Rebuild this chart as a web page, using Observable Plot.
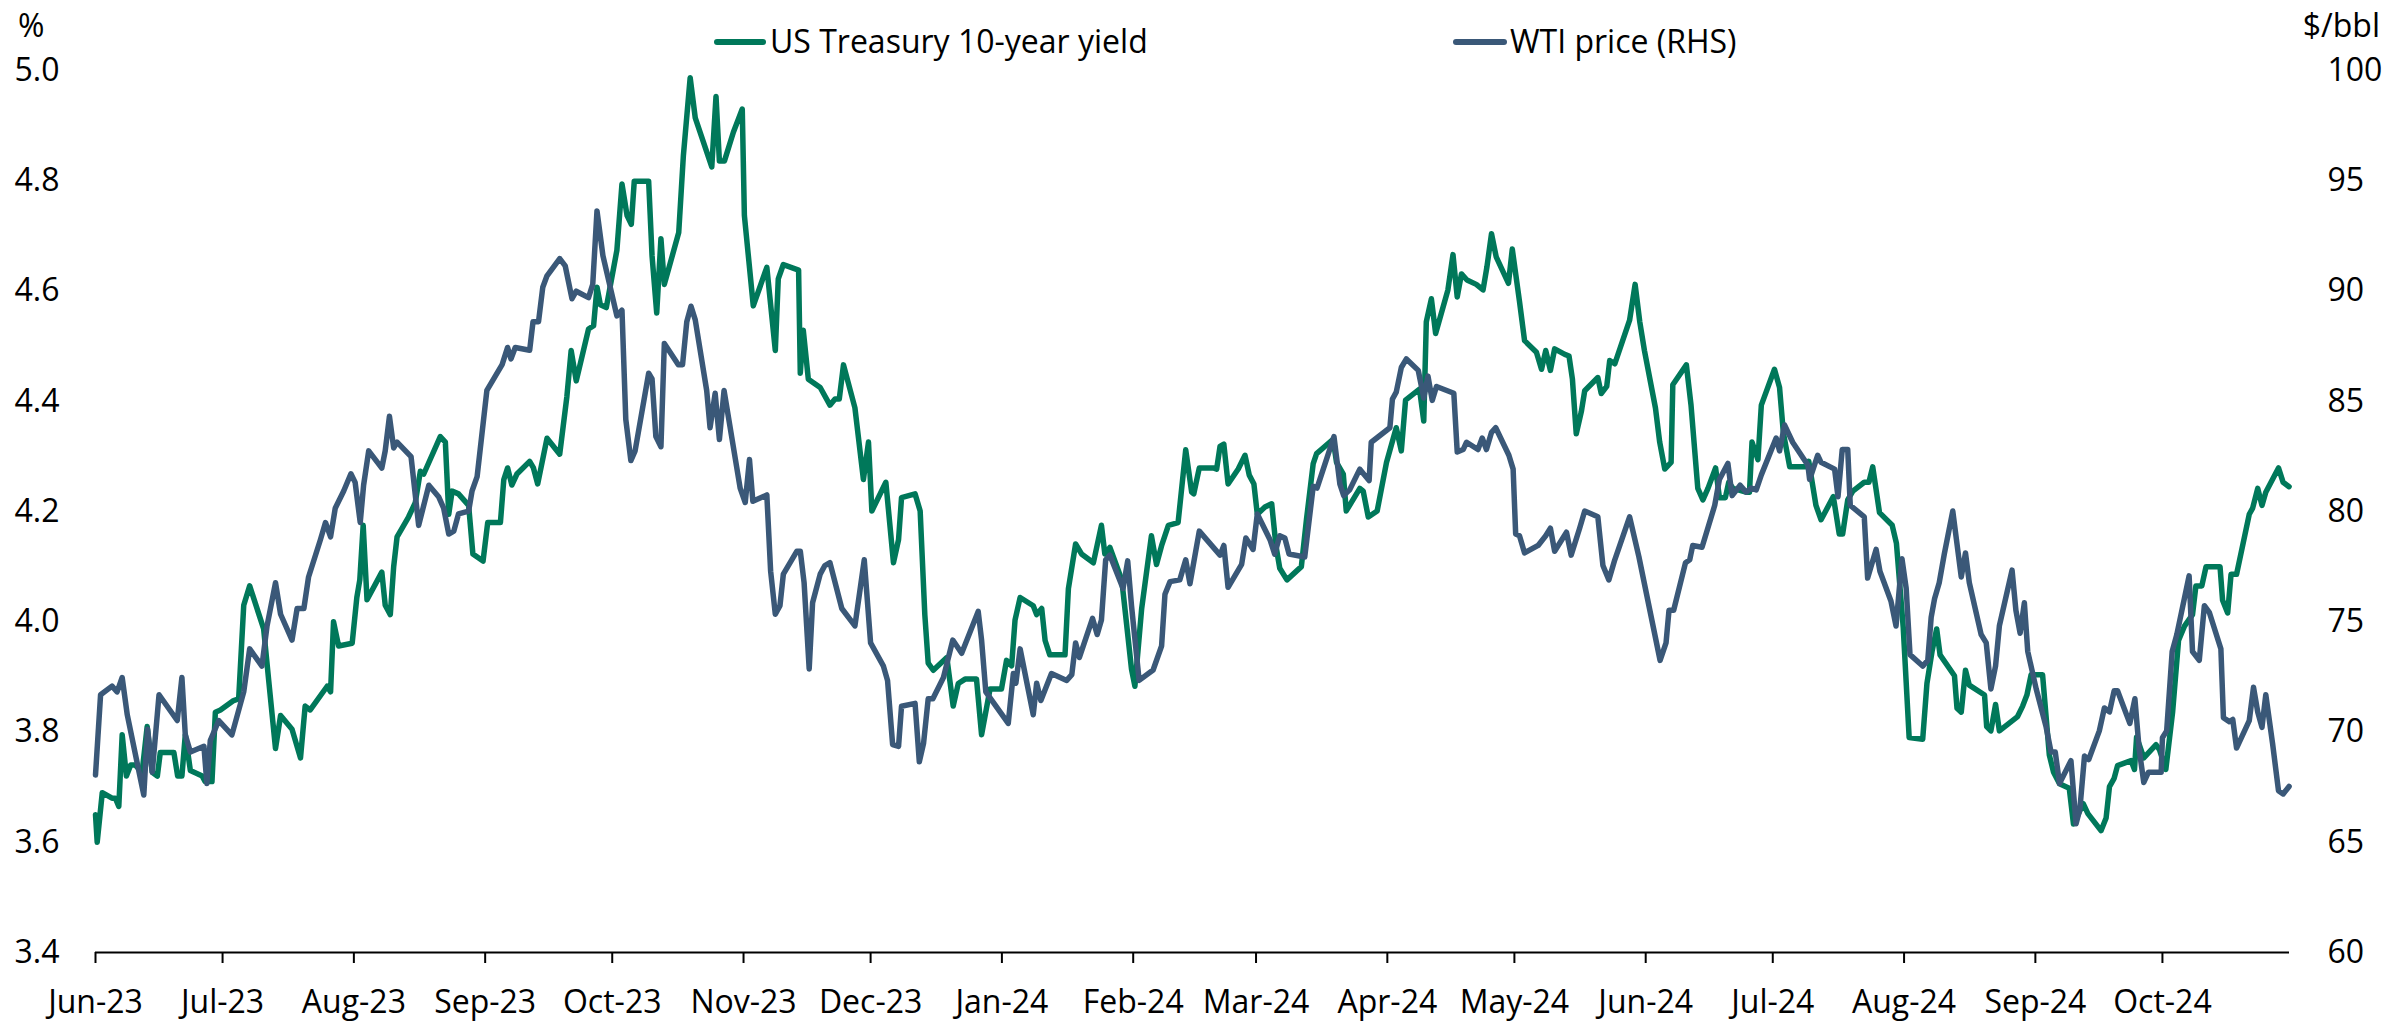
<!DOCTYPE html>
<html><head><meta charset="utf-8">
<script src="https://cdn.jsdelivr.net/npm/d3@7"></script>
<script src="https://cdn.jsdelivr.net/npm/@observablehq/plot@0.6"></script>
<style>
html,body{margin:0;padding:0;background:#fff;}
#wrap{position:relative;width:2389px;height:1024px;font-family:"Open Sans",sans-serif;color:#000;overflow:hidden;}
#wrap svg{position:absolute;left:0;top:0;}
.lab{position:absolute;font-size:32px;line-height:32px;white-space:nowrap;}
.sw{position:absolute;height:6px;border-radius:3px;}
</style></head><body>
<div id="wrap">
  <div class="lab" style="left:18px;top:9px;">%</div>
  <div class="lab" style="right:9px;top:9px;">$/bbl</div>
  <div class="sw" style="left:714px;top:39px;width:52px;background:#00785A;"></div>
  <div class="lab" style="left:770px;top:25px;">US Treasury 10-year yield</div>
  <div class="sw" style="left:1453px;top:39px;width:54px;background:#3A5878;"></div>
  <div class="lab" style="left:1510px;top:25px;">WTI price (RHS)</div>
</div>
<script>
// Series names
const seriesNames = ["US Treasury 10-year yield", "WTI price (RHS)"];
// Axis ticks
const yieldTicks = [3.4, 3.6, 3.8, 4.0, 4.2, 4.4, 4.6, 4.8, 5.0];
const wtiTicks = [60, 65, 70, 75, 80, 85, 90, 95, 100];
const monthTicks = ["2023-06-01","2023-07-01","2023-08-01","2023-09-01","2023-10-01","2023-11-01","2023-12-01",
  "2024-01-01","2024-02-01","2024-03-01","2024-04-01","2024-05-01","2024-06-01","2024-07-01","2024-08-01",
  "2024-09-01","2024-10-01"];
const startDate = "2023-06-01";
const endDate = "2024-10-31";

// US 10-year yield (%): [days since 1 Jun 2023, value]
const yieldPoints = [
[0,3.65],[0.4,3.60],[1.6,3.69],[3.9,3.68],[4.7,3.68],[5.5,3.665],[6.3,3.795],[7.3,3.72],[8.3,3.74],[9.4,3.74],[11,3.727],[12.2,3.81],[13.4,3.727],[14.6,3.72],[15.3,3.763],[18.5,3.763],[19.4,3.72],[20.4,3.72],[21.2,3.795],[22.4,3.73],[25.2,3.72],[25.9,3.71],[27.5,3.71],[28.3,3.836],[29.5,3.84],[32.6,3.857],[33.8,3.86],[35,4.03],[36.4,4.065],[39.7,3.987],[40.9,3.893],[42.5,3.77],[43.7,3.83],[46.4,3.805],[48.4,3.753],[49.5,3.847],[50.7,3.84],[54.7,3.883],[55.5,3.873],[56.2,4.0],[57.4,3.956],[60.6,3.961],[61.7,4.044],[62.4,4.076],[63.2,4.175],[64.1,4.04],[67.6,4.09],[68.4,4.03],[69.6,4.013],[70.4,4.10],[71.2,4.154],[73.9,4.19],[75.5,4.216],[76.7,4.273],[77.5,4.268],[81.4,4.336],[82.6,4.326],[83.4,4.195],[84.2,4.237],[85.7,4.232],
[88.1,4.211],[89.1,4.123],[91.5,4.11],[92.6,4.18],[95.6,4.18],[96.4,4.258],[97.3,4.279],[98.3,4.248],[99.5,4.268],[102.5,4.291],[103.4,4.279],[104.4,4.25],[106.6,4.333],[109.6,4.304],[111.3,4.409],[112.3,4.492],[113.5,4.437],[116.4,4.531],[117.6,4.537],[118.4,4.607],[119.2,4.575],[120.6,4.57],[123.1,4.674],[124.3,4.794],[125.5,4.737],[126.5,4.721],[127.2,4.799],[130.6,4.799],[131.4,4.664],[132.5,4.56],[133.5,4.695],[134.3,4.612],[137.7,4.706],[138.8,4.846],[140.4,4.987],[141.6,4.914],[145.5,4.825],[146.5,4.953],[147.3,4.836],[148.5,4.836],[150.6,4.888],[152.7,4.93],[153.2,4.737],[155.3,4.573],[158.5,4.643],[160.5,4.492],[161.2,4.622],[162.4,4.648],[166.0,4.638],[166.4,4.451],[167.1,4.529],[168.3,4.44],[171.1,4.425],
[173.4,4.393],[174.6,4.404],[175.6,4.404],[176.6,4.466],[179.3,4.388],[181.3,4.258],[182.5,4.326],[183.3,4.201],[186.6,4.253],[188.4,4.107],[189.6,4.149],[190.3,4.225],[193.5,4.232],[194.7,4.201],[195.8,4.013],[196.6,3.925],[197.8,3.912],[201.0,3.935],[202.5,3.847],[203.7,3.888],[205.3,3.896],[208.0,3.896],[209.2,3.795],[211.2,3.878],[213.9,3.878],[215.1,3.93],[216.3,3.92],[217.1,4.003],[218.3,4.044],[221.4,4.029],[222.2,4.013],[223.4,4.024],[224.2,3.966],[225.3,3.94],[228.9,3.94],[229.7,4.06],[231.4,4.141],[232.8,4.123],[235.6,4.107],[237.5,4.175],[238.3,4.123],[239.5,4.135],[242.3,4.076],[244.6,3.914],[245.4,3.883],[247.0,4.024],[249.3,4.156],[250.5,4.104],[251.7,4.138],[253.3,4.175],[255.6,4.18],
[257.4,4.312],[258.8,4.235],[259.3,4.232],[260.6,4.279],[263.9,4.279],[264.7,4.277],[265.5,4.318],[266.4,4.322],[267.4,4.25],[269.8,4.277],[271.4,4.302],[272.4,4.266],[273.5,4.25],[274.3,4.195],[276.1,4.208],[277.7,4.214],[278.7,4.138],[279.6,4.097],[281.3,4.076],[284.7,4.1],[285.9,4.185],[287.5,4.287],[288.3,4.305],[292.2,4.331],[293.0,4.289],[294.6,4.268],[295.3,4.201],[298.5,4.242],[299.3,4.237],[300.5,4.19],[302.6,4.201],[304.8,4.289],[307.1,4.352],[308.3,4.31],[309.3,4.402],[312.6,4.422],[313.6,4.364],[314.2,4.544],[315.4,4.586],[316.4,4.523],[319.3,4.602],[320.5,4.666],[321.5,4.589],[322.5,4.631],[323.8,4.62],[326.0,4.612],[327.6,4.602],[328.5,4.643],[329.6,4.704],[330.7,4.662],[333.6,4.614],[334.5,4.676],[336.2,4.581],[337.4,4.51],[340.2,4.489],
[341.4,4.458],[342.4,4.492],[343.5,4.456],[344.5,4.495],[346.9,4.485],[347.9,4.482],[348.7,4.44],[349.6,4.341],[350.8,4.381],[351.6,4.419],[354.7,4.443],[355.5,4.414],[356.8,4.427],[357.5,4.474],[358.7,4.468],[362.2,4.547],[363.5,4.612],[364.6,4.544],[365.7,4.492],[368.3,4.388],[369.3,4.326],[370.5,4.277],[372.0,4.289],[372.4,4.43],[375.6,4.466],[376.7,4.393],[378.3,4.242],[379.5,4.221],[380.7,4.242],[382.5,4.279],[383.4,4.225],[384.8,4.225],[385.6,4.253],[386.6,4.242],[389.7,4.235],[390.5,4.235],[391.1,4.326],[392.5,4.294],[393.3,4.393],[396.4,4.458],[397.6,4.425],[398.5,4.343],[400.0,4.281],[403.7,4.281],[404.5,4.291],[406.2,4.211],[407.4,4.185],[410.3,4.227],[411.7,4.159],[412.5,4.159],[413.7,4.221],[414.9,4.237],[417.6,4.253],[418.7,4.253],[419.6,4.281],[421.2,4.198],[424.2,4.175],[425.2,4.142],
[426.8,3.99],[428.2,3.79],[431.4,3.787],[432.4,3.888],[433.6,3.946],[434.7,3.987],[435.5,3.94],[438.9,3.902],[439.5,3.843],[440.5,3.836],[441.5,3.912],[442.4,3.885],[446.0,3.867],[446.5,3.81],[447.5,3.802],[448.6,3.85],[449.5,3.802],[453.8,3.828],[455.0,3.847],[456.0,3.867],[457.0,3.904],[459.7,3.904],[461.3,3.758],[462.3,3.727],[463.7,3.706],[466.0,3.698],[467.0,3.633],[468.0,3.649],[469.3,3.67],[470.4,3.652],[473.5,3.621],[474.7,3.644],[475.5,3.701],[476.6,3.716],[477.4,3.739],[480.6,3.748],[481.4,3.732],[481.9,3.791],[483.6,3.753],[486.5,3.777],[487.3,3.768],[488.8,3.732],[490.4,3.836],[491.8,3.966],[493.2,3.992],[495.1,4.013],[495.9,4.065],[497.3,4.065],[498.3,4.1],[501.6,4.1],[502.2,4.039],[503.4,4.016],[504.2,4.086],[505.5,4.086],[508.5,4.195],[509.3,4.206],[510.5,4.242],[511.5,4.211],[512.4,4.235],[515.4,4.279],[516.5,4.253],[517.9,4.245]
];

// WTI price ($/bbl): [days since 1 Jun 2023, value]
const wtiPoints = [
[0,68.05],[1.2,71.69],[3.9,72.08],[5.1,71.82],[6.3,72.47],[7.5,70.78],[11.4,67.14],[12.3,70.13],[13.4,68.18],[15,71.69],[19.3,70.52],[20.4,72.47],[21.2,69.87],[22.4,69.09],[25.6,69.35],[26.3,67.66],[27.1,69.61],[29.1,70.52],[32.2,69.87],[35,71.82],[36.4,73.77],[39.3,72.99],[40.5,74.81],[42.5,76.77],[43.7,75.34],[46.4,74.17],[47.6,75.6],[49.2,75.6],[50.3,77.03],[53.1,78.72],[54.3,79.5],[55.5,78.85],[56.6,80.15],[58.6,80.93],[60.3,81.71],[61.3,81.32],[62.5,79.5],[63.3,81.19],[64.5,82.75],[67.6,81.97],[68.4,82.75],[69.4,84.32],[70.4,82.88],[71.2,83.15],[74.5,82.49],[76.3,79.37],[78.7,81.19],[81,80.67],[82.2,80.15],[83.4,78.98],[84.6,79.11],[85.7,79.89],
[88.1,80.02],[88.9,80.93],[90.1,81.58],[92.4,85.49],[96.0,86.66],[97.3,87.44],[98.1,86.92],[99.1,87.44],[102.5,87.31],[103.3,88.61],[104.6,88.61],[105.6,90.17],[106.6,90.69],[109.6,91.47],[110.9,91.14],[112.5,89.65],[113.5,89.99],[116.4,89.7],[117.4,90.3],[118.4,93.63],[119.8,91.6],[123.1,88.87],[124.3,89.13],[125.2,84.18],[126.4,82.31],[127.4,82.75],[130.6,86.27],[131.4,86.01],[132.3,83.4],[133.5,82.94],[134.3,87.62],[137.6,86.66],[138.6,86.66],[139.6,88.61],[140.6,89.31],[141.6,88.69],[144.3,85.49],[145.1,83.8],[146.3,85.36],[147.3,83.27],[148.4,85.49],[152.2,81.06],[153.4,80.41],[154.4,82.36],[155.2,80.46],[158.5,80.75],[159.4,77.29],[160.5,75.34],[161.6,75.73],[162.4,77.16],[165.6,78.2],[166.4,78.2],[167.3,76.77],[168.5,72.86],[169.3,75.86],[171.1,77.16],
[172.2,77.55],[173.4,77.68],[176.2,75.6],[179.3,74.81],[181.5,77.81],[183.0,74.04],[186.0,73.0],[187.0,72.34],[188.2,69.43],[189.6,69.35],[190.3,71.17],[193.5,71.3],[194.5,68.65],[195.5,69.48],[196.6,71.51],[197.7,71.51],[200.2,72.47],[202.4,74.17],[204.5,73.57],[208.4,75.47],[209.2,74.17],[210.2,71.82],[215.5,70.39],[216.7,72.65],[217.3,72.21],[218.3,73.77],[221.4,70.78],[222.2,72.21],[223.2,71.43],[225.7,72.65],[229.3,72.34],[230.5,72.6],[231.4,74.04],[232.3,73.38],[235.4,75.15],[236.5,74.42],[237.5,75.08],[238.5,77.81],[239.5,78.02],[242.6,76.51],[243.7,77.76],[244.6,75.73],[246.4,72.34],[249.7,72.81],[251.7,73.9],[252.5,76.25],[253.7,76.82],[256.0,76.9],
[257.4,77.81],[258.4,76.72],[260.6,79.11],[265.5,78.02],[266.4,78.46],[267.4,76.56],[270.6,77.6],[271.6,78.8],[273.3,78.28],[274.3,79.89],[277.3,78.72],[278.4,78.07],[279.6,78.9],[280.8,78.8],[281.8,78.07],[285.5,77.94],[287.5,81.14],[288.4,81.06],[292.4,83.4],[293.8,81.24],[294.7,80.72],[296.1,80.98],[298.5,81.92],[300.7,81.4],[301.2,83.14],[305.6,83.8],[306.2,85.1],[307.1,85.41],[308.3,86.53],[309.5,86.92],[312.3,86.4],[313.6,85.15],[314.6,86.14],[315.6,85.04],[316.6,85.67],[320.7,85.36],[321.5,82.7],[322.9,82.81],[323.7,83.14],[326.4,82.81],[327.4,83.33],[328.4,82.81],[329.6,83.59],[330.6,83.8],[333.7,82.55],[334.7,81.92],[335.3,78.98],[336.2,78.9],[337.4,78.12],[340.6,78.46],
[342.4,78.9],[343.5,79.24],[344.5,78.2],[347.3,79.06],[348.4,78.02],[350.4,79.24],[351.6,80.02],[354.7,79.76],[355.9,77.55],[357.3,76.9],[358.7,77.81],[362.2,79.76],[364.4,77.94],[369.4,73.25],[370.8,74.04],[371.5,75.52],[372.6,75.52],[375.4,77.68],[376.4,77.81],[377.1,78.46],[379.3,78.38],[382.3,80.28],[383.4,81.45],[385.4,82.18],[386.4,80.72],[388.3,81.19],[389.7,80.88],[390.9,81.06],[392.1,80.98],[393.3,81.66],[396.8,83.33],[397.6,82.75],[398.8,83.92],[400.7,83.14],[404.3,82.1],[404.7,81.45],[406.6,82.55],[407.4,82.23],[410.6,81.92],[411.4,80.67],[412.4,82.81],[413.7,82.81],[414.3,80.28],[417.6,79.76],[418.4,76.98],[420.4,78.28],[421.3,77.29],[423.9,75.94],[425.1,74.81],
[426.5,77.86],[427.5,76.51],[428.4,73.51],[431.4,72.99],[432.6,73.25],[433.4,75.2],[434.2,76.04],[435.3,76.77],[436.5,78.07],[438.5,80.02],[440.5,77.03],[441.5,78.12],[442.4,76.77],[445.2,74.42],[446.4,74.04],[447.5,71.95],[448.6,72.99],[449.5,74.81],[452.5,77.34],[453.4,75.52],[454.4,74.48],[455.4,75.86],[456.2,73.65],[458.2,71.95],[460.5,70.26],[461.7,69.09],[462.7,69.09],[463.7,67.66],[466.4,68.7],[467.6,65.84],[468.5,66.49],[469.6,68.91],[470.6,68.75],[473.1,70.05],[474.3,71.09],[475.5,70.91],[476.6,71.87],[477.4,71.87],[480.3,70.39],[481.5,71.51],[482.5,69.22],[483.6,67.71],[484.7,68.18],[487.7,68.18],[488.0,69.74],[489.0,70.05],[490.3,73.65],[491.4,74.42],[494.3,77.08],[495.1,73.65],[496.7,73.25],[497.9,75.73],[499.1,75.41],[501.8,73.77],[502.4,70.65],[503.8,70.47],[504.6,70.57],[505.5,69.27],[508.5,70.52],[509.5,72.03],[510.5,70.91],[511.5,70.21],[512.4,71.69],[514.0,69.48],[515.4,67.34],[516.5,67.19],[517.9,67.53]
];

const GREEN = "#00785A";
const BLUE = "#3A5878";

const t0 = new Date(startDate).getTime();
const toDate = d => new Date(t0 + d * 864e5);
// map WTI onto the left-hand scale for the secondary axis
const wtiToLeft = d3.scaleLinear([wtiTicks[0], wtiTicks[wtiTicks.length - 1]], [yieldTicks[0], yieldTicks[yieldTicks.length - 1]]);

const yieldData = yieldPoints.map(([d, v]) => ({date: toDate(d), value: v, series: seriesNames[0]}));
const wtiData = wtiPoints.map(([d, v]) => ({date: toDate(d), value: wtiToLeft(v), raw: v, series: seriesNames[1]}));

const chart = Plot.plot({
  width: 2389,
  height: 1024,
  marginLeft: 95,
  marginRight: 100,
  marginTop: 70,
  marginBottom: 72,
  style: {fontFamily: "'Open Sans', sans-serif", fontSize: "32px", color: "#000", background: "transparent", overflow: "visible"},
  x: {type: "utc", domain: [new Date(startDate), new Date(endDate)], label: null},
  y: {domain: [yieldTicks[0], yieldTicks[yieldTicks.length - 1]], label: null},
  marks: [
    Plot.axisY(yieldTicks, {anchor: "left", tickSize: 0, tickPadding: 36, tickFormat: d => d.toFixed(1), label: null}),
    Plot.axisY(wtiTicks.map(wtiToLeft), {anchor: "right", tickSize: 0, tickPadding: 38, tickFormat: d => String(Math.round(wtiToLeft.invert(d))), label: null}),
    Plot.axisX(monthTicks.map(s => new Date(s)), {anchor: "bottom", tickSize: 11, tickPadding: 27, strokeWidth: 2, stroke: "#000", tickFormat: d3.utcFormat("%b-%y"), label: null}),
    Plot.ruleY([yieldTicks[0]], {stroke: "#000", strokeWidth: 2}),
    Plot.line(yieldData, {x: "date", y: "value", stroke: GREEN, strokeWidth: 5.5, strokeLinejoin: "round", strokeLinecap: "round"}),
    Plot.line(wtiData, {x: "date", y: "value", stroke: BLUE, strokeWidth: 5.5, strokeLinejoin: "round", strokeLinecap: "round"})
  ]
});
document.getElementById("wrap").prepend(chart);
</script>
</body></html>
